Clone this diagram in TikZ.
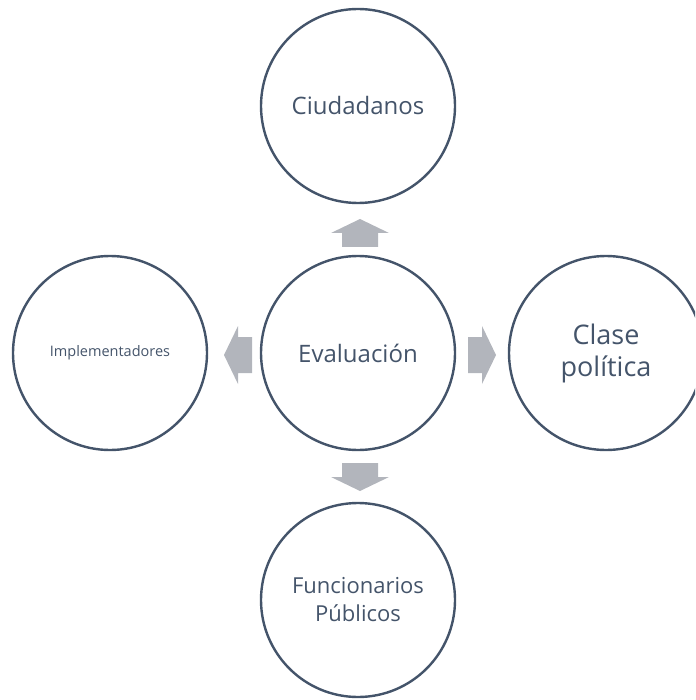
\documentclass[tikz,border=0pt]{standalone}
\usepackage{fontspec}
\setmainfont{Open Sans}
\definecolor{ink}{HTML}{44546A}
\definecolor{arrg}{HTML}{B2B5BC}
\begin{document}
\begin{tikzpicture}[x=1pt,y=-1pt,
  circ/.style={circle,draw=ink,line width=2.4pt,minimum size=194pt,inner sep=0pt,text=ink,align=center,font=\fontsize{24}{30}\selectfont},
  blockarr/.style={fill=arrg,draw=none}]
\useasboundingbox (0,0) rectangle (695,700);
\clip (0,0) rectangle (695,700);
\node[circ] (top) at (358,106) {Ciudadanos};
\node[circ] (mid) at (358,353) {Evaluación};
\node[circ,font=\fontsize{14.5}{17}\selectfont] (left) at (110,353) {Implementadores};
\node[circ,font=\fontsize{27}{32}\selectfont] (right) at (606,353) {Clase\\política};
\node[circ,font=\fontsize{22}{28}\selectfont] (bot) at (358,600) {Funcionarios\\Públicos};
% block arrows
\fill[blockarr] (360,219) -- (389,233) -- (378,233) -- (378,247) -- (342,247) -- (342,233) -- (331,233) -- cycle;
\fill[blockarr] (360,491) -- (389,477) -- (378,477) -- (378,463) -- (342,463) -- (342,477) -- (331,477) -- cycle;
\fill[blockarr] (224,355) -- (238,326) -- (238,337) -- (252,337) -- (252,373) -- (238,373) -- (238,384) -- cycle;
\fill[blockarr] (496,355) -- (482,326) -- (482,337) -- (468,337) -- (468,373) -- (482,373) -- (482,384) -- cycle;
\end{tikzpicture}
\end{document}
